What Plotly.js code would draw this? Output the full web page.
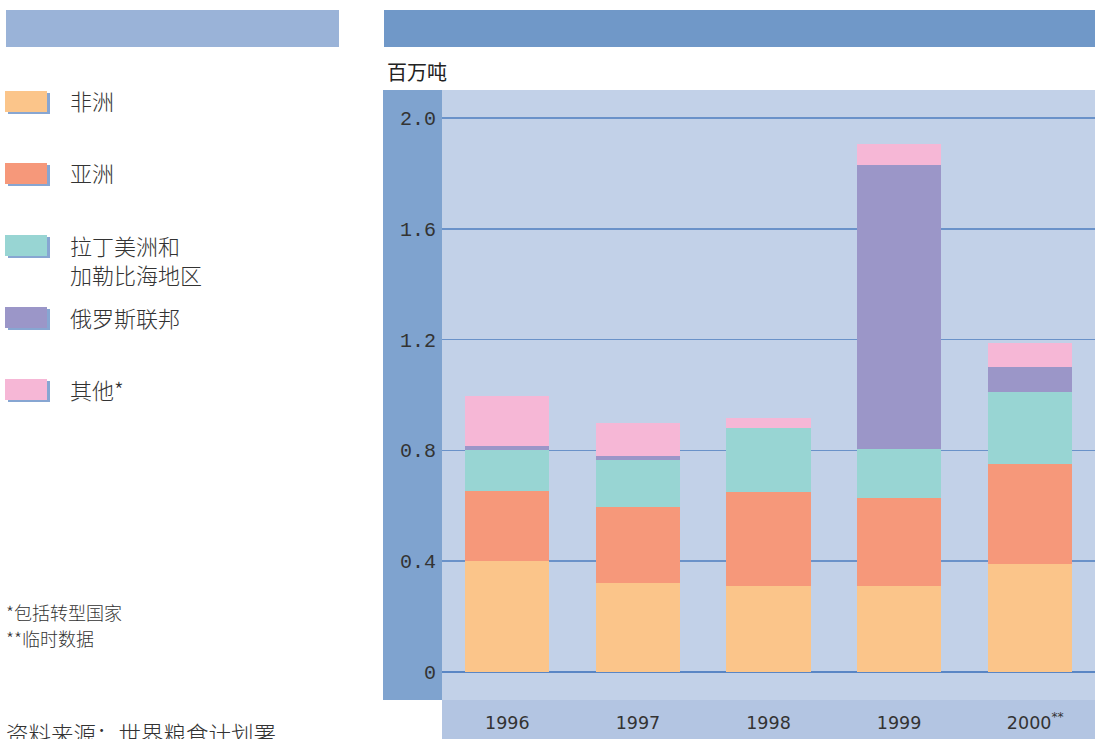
<!DOCTYPE html>
<html>
<head>
<meta charset="utf-8">
<script src="https://cdn.plot.ly/plotly-3.0.1.min.js"></script>
<style>
html,body{margin:0;padding:0;background:#fff;}
#chart{width:1095px;height:739px;}
</style>
</head>
<body>
<div id="chart"></div>
<script>
// ---- data ----
const years = ['1996', '1997', '1998', '1999', '2000'];
const yearLabels = ['1996', '1997', '1998', '1999', '\u00a0\u00a02000<sup>**</sup>'];
const africa = [0.40, 0.32, 0.31, 0.31, 0.39];
const asia   = [0.255, 0.275, 0.34, 0.32, 0.36];
const latam  = [0.145, 0.17, 0.23, 0.175, 0.26];
const russia = [0.015, 0.015, 0, 1.025, 0.09];
const other  = [0.18, 0.12, 0.037, 0.075, 0.086];
const seriesNames = ['非洲', '亚洲', '拉丁美洲和<br>加勒比海地区', '俄罗斯联邦', '其他*'];
const yTickVals = [0, 0.4, 0.8, 1.2, 1.6, 2.0];
const yTickText = ['0', '0.4', '0.8', '1.2', '1.6', '2.0'];
const unitLabel = '百万吨';
const notes = ['*包括转型国家', '**临时数据'];
const sourceText = '资料来源：世界粮食计划署';

// ---- styling ----
const colors = ['#FBC58A', '#F6987A', '#98D5D3', '#9B96C8', '#F6B7D6'];
const W = 1095, H = 739;
const M = {l: 442, r: 0, t: 90, b: 39};
const PW = W - M.l - M.r, PH = H - M.t - M.b;
const px = x => (x - M.l) / PW;
const py = y => (H - M.b - y) / PH;

const series = [africa, asia, latam, russia, other];
const traces = series.map((vals, i) => ({
  type: 'bar',
  x: years,
  y: vals,
  name: seriesNames[i],
  marker: {color: colors[i], line: {width: 0}},
  showlegend: false,
  hoverinfo: 'x+y+name'
}));

const shapes = [];
const annotations = [];
function rect(x0, y0, x1, y1, color) {
  shapes.push({type: 'rect', xref: 'paper', yref: 'paper', layer: 'below',
    x0: px(x0), x1: px(x1), y0: py(y1), y1: py(y0),
    fillcolor: color, line: {width: 0}});
}
// header bars
rect(6, 10, 339, 47, '#9AB3D8');
rect(384, 10, 1095, 47, '#7098C8');
// y-axis band and x-label band
rect(383, 90, 442, 700, '#7FA3CF');
rect(442, 700, 1095, 739, '#B3C5E2');

// custom legend
const legendSwatchTop = [91, 163, 235, 307, 379];
const legendTextY = [100, 172, 259, 317, 389];
legendSwatchTop.forEach((t, i) => {
  rect(8, t + 2, 50, t + 23, '#87A6D2');
  rect(5, t, 47, t + 21, colors[i]);
  annotations.push({xref: 'paper', yref: 'paper', x: px(68), y: py(legendTextY[i]),
    xanchor: 'left', yanchor: 'middle', align: 'left', showarrow: false,
    text: seriesNames[i],
    font: {family: 'Noto Sans CJK SC', size: 22, color: '#333', weight: 300}});
});

annotations.push({xref: 'paper', yref: 'paper', x: px(385), y: py(72),
  xanchor: 'left', yanchor: 'middle', showarrow: false, text: unitLabel,
  font: {family: 'Noto Sans CJK SC', size: 20, color: '#222'}});

annotations.push({xref: 'paper', yref: 'paper', x: px(4), y: py(612),
  xanchor: 'left', yanchor: 'middle', showarrow: false, text: notes[0],
  font: {family: 'Noto Sans CJK SC', size: 18, color: '#333', weight: 300}});
annotations.push({xref: 'paper', yref: 'paper', x: px(4), y: py(638),
  xanchor: 'left', yanchor: 'middle', showarrow: false, text: notes[1],
  font: {family: 'Noto Sans CJK SC', size: 18, color: '#333', weight: 300}});
annotations.push({xref: 'paper', yref: 'paper', x: px(4), y: py(733),
  xanchor: 'left', yanchor: 'middle', showarrow: false, text: sourceText,
  font: {family: 'Noto Sans CJK SC', size: 22.5, color: '#333', weight: 300}});

const layout = {
  width: W, height: H,
  margin: {l: M.l, r: M.r, t: M.t, b: M.b, pad: 0},
  paper_bgcolor: '#ffffff',
  plot_bgcolor: '#C2D1E8',
  barmode: 'stack',
  bargap: 0.354,
  showlegend: false,
  xaxis: {
    type: 'category',
    tickvals: years, ticktext: yearLabels,
    range: [-0.5, 4.5],
    showgrid: false, zeroline: false, showline: false, ticks: '',
    tickfont: {family: 'DejaVu Sans', size: 17.5, color: '#333'},
    ticklabelstandoff: 10,
    fixedrange: true
  },
  yaxis: {
    range: [-0.101, 2.101],
    tickvals: yTickVals, ticktext: yTickText,
    showgrid: true, gridcolor: '#6A92C9', gridwidth: 1.5,
    zeroline: true, zerolinecolor: '#5A86C4', zerolinewidth: 2.5,
    showline: false, ticks: '',
    tickfont: {family: 'Liberation Mono', size: 20, color: '#333'},
    ticklabelstandoff: 5,
    fixedrange: true
  },
  shapes: shapes,
  annotations: annotations
};

Plotly.newPlot('chart', traces, layout, {displayModeBar: false, staticPlot: true});
</script>
</body>
</html>
